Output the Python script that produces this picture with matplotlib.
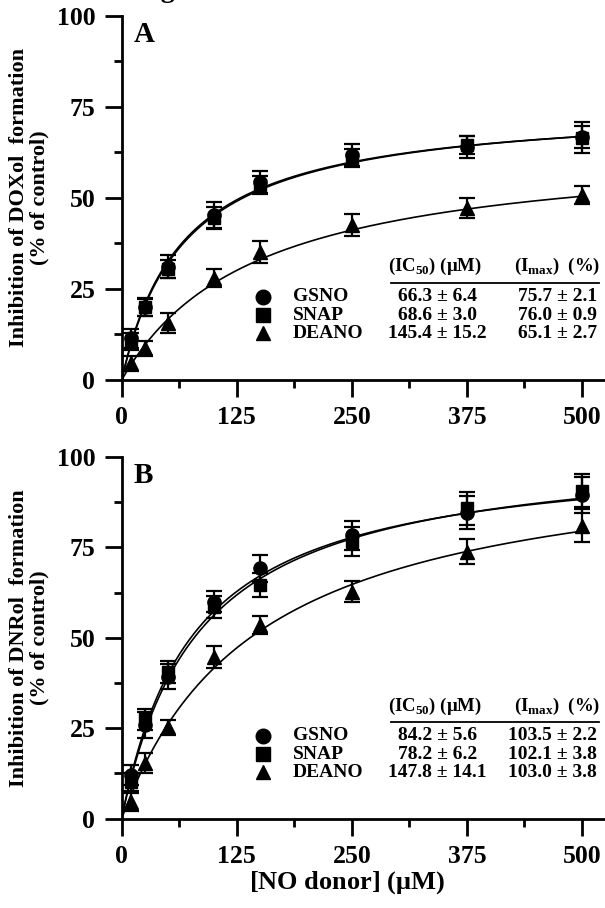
import numpy as np
import matplotlib.pyplot as plt

plt.rcParams['font.family'] = ['Liberation Serif', 'DejaVu Serif']
plt.rcParams['font.weight'] = 'bold'
plt.rcParams['mathtext.fontset'] = 'custom'
plt.rcParams['mathtext.rm'] = 'Liberation Serif:bold'
plt.rcParams['mathtext.bf'] = 'Liberation Serif:bold'

# concentrations (uM)
conc = [10, 25, 50, 100, 150, 250, 375, 500]

# panel A - DOXol
a_gsno = [11.4, 20.1, 31.1, 45.3, 54.4, 61.8, 64.0, 66.8]
a_gsno_err = [2.5, 2.5, 3.2, 3.5, 3.0, 3.0, 3.0, 3.0]
a_snap = [10.5, 20.0, 30.5, 44.5, 53.5, 61.0, 64.5, 66.5]
a_snap_err = [2.3, 2.3, 2.5, 3.0, 2.5, 2.5, 2.5, 4.2]
a_deano = [4.6, 8.7, 15.6, 28.0, 35.1, 42.5, 47.2, 50.8]
a_deano_err = [2.0, 2.0, 2.7, 2.5, 3.0, 3.0, 2.8, 2.5]

# panel B - DNRol
b_gsno = [12.0, 25.9, 39.2, 60.0, 69.2, 78.4, 84.6, 89.5]
b_gsno_err = [2.8, 3.5, 3.5, 3.0, 3.7, 4.0, 4.5, 5.0]
b_snap = [10.2, 27.4, 40.6, 58.5, 64.6, 76.6, 85.8, 90.7]
b_snap_err = [2.5, 3.0, 3.0, 3.0, 3.4, 4.0, 4.5, 4.5]
b_deano = [4.6, 15.3, 25.2, 44.6, 53.5, 62.7, 73.8, 81.0]
b_deano_err = [2.5, 2.7, 2.0, 3.0, 2.4, 2.9, 3.5, 4.5]

# fitted parameters
a_ic50 = [66.3, 68.6, 145.4]
a_imax = [75.7, 76.0, 65.1]
b_ic50 = [84.2, 78.2, 147.8]
b_imax = [103.5, 102.1, 103.0]

names = ['GSNO', 'SNAP', 'DEANO']
a_ic50_txt = ['66.3 ± 6.4', '68.6 ± 3.0', '145.4 ± 15.2']
a_imax_txt = ['75.7 ± 2.1', '76.0 ± 0.9', '65.1 ± 2.7']
b_ic50_txt = ['84.2 ± 5.6', '78.2 ± 6.2', '147.8 ± 14.1']
b_imax_txt = ['103.5 ± 2.2', '102.1 ± 3.8', '103.0 ± 3.8']

markers = ['o', 's', '^']
msizes = [9.5, 8.5, 9.5]

W, H = 605, 908
fig = plt.figure(figsize=(W / 100, H / 100), dpi=100)


def px_axes(x0, y0, x1, y1):
    # pixel box -> figure axes
    return fig.add_axes([x0 / W, 1 - y1 / H, (x1 - x0) / W, (y1 - y0) / H])


axA = px_axes(121.7, 15.7, 605, 380)
axB = px_axes(121.7, 457, 605, 818.5)

xfit = np.linspace(0, 500, 300)


def draw_panel(ax, series, errs, ic50, imax, letter, ic_txt, im_txt, ylabel):
    for i in range(3):
        ax.plot(xfit, imax[i] * xfit / (ic50[i] + xfit), color='black', lw=1.2, zorder=2)
    for i in range(3):
        ax.errorbar(conc, series[i], yerr=errs[i], fmt=markers[i], ms=msizes[i],
                    color='black', ecolor='black', elinewidth=1.6, capsize=6,
                    capthick=1.6, zorder=3)
    ax.set_xlim(0, 525)
    ax.set_ylim(0, 100)
    ax.spines['top'].set_visible(False)
    ax.spines['right'].set_visible(False)
    for s in ['left', 'bottom']:
        ax.spines[s].set_linewidth(2)
    ax.set_xticks([0, 125, 250, 375, 500])
    ax.set_xticks([62.5, 187.5, 312.5, 437.5], minor=True)
    ax.set_yticks([0, 25, 50, 75, 100])
    ax.set_yticks([12.5, 37.5, 62.5, 87.5], minor=True)
    ax.tick_params(which='major', length=12, width=2, labelsize=18.5, pad=7)
    ax.tick_params(which='minor', length=6, width=2)
    for lab in ax.get_xticklabels() + ax.get_yticklabels():
        lab.set_fontweight('bold')
    ax.set_ylabel(ylabel, fontsize=16, fontweight='bold', labelpad=5, linespacing=1.05)
    ax.text(0.025, 0.985, letter, transform=ax.transAxes, fontsize=21,
            fontweight='bold', va='top', ha='left')

    # parameter table inside the plot
    ax.text(340, 31.1, r'(IC$_{50}$) ($\mathbf{\mu}$M)', fontsize=13.5, ha='center', va='center')
    ax.text(473, 31.1, r'(I$_{\mathrm{max}}$)  (%)', fontsize=13.5, ha='center', va='center')
    ax.plot([293, 518], [26.7, 26.7], color='black', lw=1.3, clip_on=False)
    rows = [22.9, 17.8, 12.8]
    for i in range(3):
        ax.plot(154, rows[i], marker=markers[i], ms=msizes[i] + 1, color='black',
                clip_on=False)
        ax.text(186, rows[i], names[i], fontsize=14, ha='left', va='center')
        ax.text(343, rows[i], ic_txt[i], fontsize=14, ha='center', va='center')
        ax.text(516, rows[i], im_txt[i], fontsize=14, ha='right', va='center')


draw_panel(axA, [a_gsno, a_snap, a_deano], [a_gsno_err, a_snap_err, a_deano_err],
           a_ic50, a_imax, 'A', a_ic50_txt, a_imax_txt,
           'Inhibition of DOXol  formation\n(% of control)')
draw_panel(axB, [b_gsno, b_snap, b_deano], [b_gsno_err, b_snap_err, b_deano_err],
           b_ic50, b_imax, 'B', b_ic50_txt, b_imax_txt,
           'Inhibition of DNRol  formation\n(% of control)')

axB.set_xlabel(r'[NO donor] ($\mathbf{\mu}$M)', fontsize=19, fontweight='bold', labelpad=2)
axB.xaxis.set_label_coords(245 / 525, -0.14)

# clipped figure caption at the top edge (only the descender shows)
fig.text(0.225, 1.003, 'Fig.', fontsize=20, fontweight='bold', ha='left', va='baseline')

fig.savefig('out.png', dpi=100)
